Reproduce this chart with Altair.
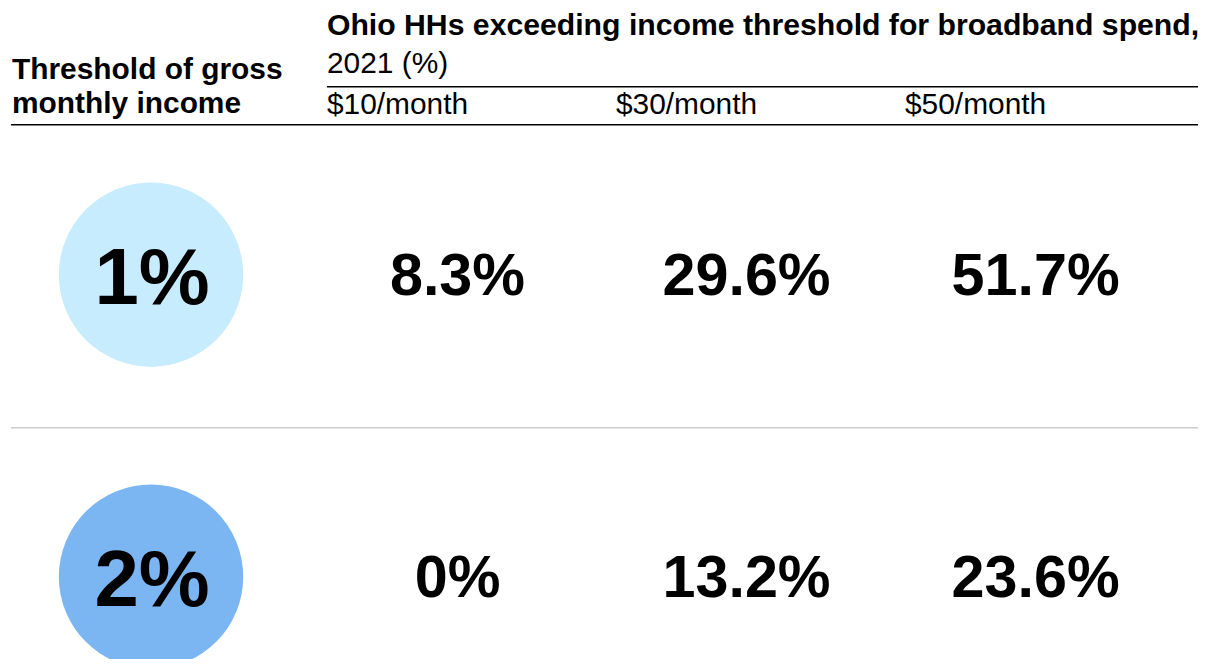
import altair as alt
import pandas as pd

# ---- data ----
thresholds = ["1%", "2%"]
columns = ["$10/month", "$30/month", "$50/month"]
values_1pct = [8.3, 29.6, 51.7]
values_2pct = [0, 13.2, 23.6]
circle_colors = ["#C7ECFE", "#7CB6F2"]
title_bold = "Ohio HHs exceeding income threshold for broadband spend,"
title_regular = "2021 (%)"
row_header = ["Threshold of gross", "monthly income"]

FONT = "Liberation Sans"

rows = []
for t, vals in zip(thresholds, [values_1pct, values_2pct]):
    for c, v in zip(columns, vals):
        rows.append({"threshold": t, "column": c, "value": v, "label": f"{v:g}%"})
df_vals = pd.DataFrame(rows)
df_thr = pd.DataFrame({"threshold": thresholds})
df_cols = pd.DataFrame({"column": columns})
dummy = pd.DataFrame({"a": [0]})

yscale = alt.Scale(type="point", domain=thresholds, range=[266.5, 569.5], padding=0)
xscale = alt.Scale(type="point", domain=columns, range=[449, 1029], padding=0)

circles = alt.Chart(df_thr).mark_point(
    shape="circle", filled=True, opacity=1, size=185 * 185, clip=True
).encode(
    x=alt.value(143.5),
    y=alt.Y("threshold:N", scale=yscale, axis=None),
    color=alt.Color("threshold:N", scale=alt.Scale(domain=thresholds, range=circle_colors), legend=None),
)

circle_labels = alt.Chart(df_thr).mark_text(
    font=FONT, fontWeight="bold", fontSize=80, baseline="alphabetic", align="center", dy=29, dx=1, color="black"
).encode(
    x=alt.value(143.5),
    y=alt.Y("threshold:N", scale=yscale, axis=None),
    text="threshold:N",
)

value_text = alt.Chart(df_vals).mark_text(
    font=FONT, fontWeight="bold", fontSize=59.5, baseline="alphabetic", align="center", dy=20.5, dx=2, color="black"
).encode(
    x=alt.X("column:N", scale=xscale, axis=None),
    y=alt.Y("threshold:N", scale=yscale, axis=None),
    text="label:N",
)

col_headers = alt.Chart(df_cols).mark_text(
    font=FONT, fontSize=30, baseline="alphabetic", align="left", dx=-129, color="black"
).encode(
    x=alt.X("column:N", scale=xscale, axis=None),
    y=alt.value(105.5),
    text="column:N",
)

title1 = alt.Chart(dummy).mark_text(
    font=FONT, fontSize=30.3, fontWeight="bold", baseline="alphabetic", align="left", color="black"
).encode(x=alt.value(320), y=alt.value(26), text=alt.value(title_bold))

title2 = alt.Chart(dummy).mark_text(
    font=FONT, fontSize=30, baseline="alphabetic", align="left", color="black"
).encode(x=alt.value(320), y=alt.value(64), text=alt.value(title_regular))

row_head = alt.Chart(dummy).mark_text(
    font=FONT, fontSize=30, fontWeight="bold", baseline="alphabetic", align="left", lineHeight=34, color="black"
).encode(x=alt.value(4), y=alt.value(70.5), text=alt.value(row_header))

rule1 = alt.Chart(dummy).mark_rule(color="black", strokeWidth=1.5).encode(
    x=alt.value(320), x2=alt.value(1194), y=alt.value(78)
)
rule2 = alt.Chart(dummy).mark_rule(color="black", strokeWidth=1.5).encode(
    x=alt.value(3), x2=alt.value(1194), y=alt.value(116)
)
rule3 = alt.Chart(dummy).mark_rule(color="#CCCCCC", strokeWidth=1.5).encode(
    x=alt.value(3), x2=alt.value(1194), y=alt.value(420)
)

chart = alt.layer(
    circles, circle_labels, value_text, col_headers, title1, title2, row_head, rule1, rule2, rule3
).properties(
    width=1196, height=652, padding=0, autosize=alt.AutoSizeParams(type="none")
).configure_view(stroke=None).resolve_scale(color="independent")

chart.save("out.html", embed_options={"renderer": "svg", "actions": False})
